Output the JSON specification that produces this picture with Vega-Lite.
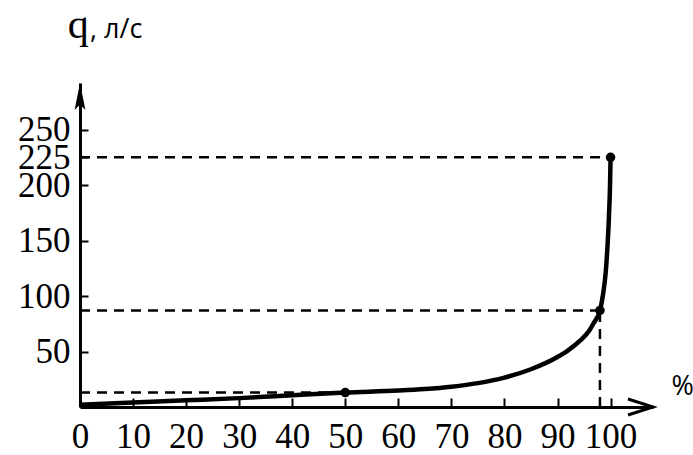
{
  "$schema": "https://vega.github.io/schema/vega-lite/v6.json",
  "width": 573,
  "height": 324,
  "autosize": {"type": "none"},
  "padding": {"left": 80, "top": 83, "right": 40, "bottom": 48},
  "background": "white",
  "config": {"view": {"stroke": null}},
  "datasets": {
    "curve": [
      {"p": 0, "q": 2}, {"p": 10, "q": 4}, {"p": 20, "q": 6}, {"p": 30, "q": 8},
      {"p": 40, "q": 10.5}, {"p": 50, "q": 13}, {"p": 60, "q": 14.8}, {"p": 65, "q": 16.2},
      {"p": 70, "q": 18.3}, {"p": 75, "q": 21.5}, {"p": 80, "q": 26.5}, {"p": 85, "q": 34}, {"p": 90, "q": 45},
      {"p": 92, "q": 51}, {"p": 94.3, "q": 60}, {"p": 96, "q": 69}, {"p": 96.8, "q": 75.5},
      {"p": 98, "q": 87}, {"p": 98.6, "q": 102}, {"p": 99.1, "q": 122}, {"p": 99.4, "q": 143},
      {"p": 99.7, "q": 172}, {"p": 99.9, "q": 200}, {"p": 100, "q": 225}
    ],
    "dashes": [
      {"x1": 0, "x2": 100, "y1": 225, "y2": 225},
      {"x1": 0, "x2": 98, "y1": 87, "y2": 87},
      {"x1": 0, "x2": 50, "y1": 13, "y2": 13},
      {"x1": 98, "x2": 98, "y1": 0, "y2": 87}
    ],
    "dots": [{"p": 50, "q": 13}, {"p": 98, "q": 87}, {"p": 100, "q": 225}],
    "uparrow": [{"p": 0, "q": 292}],
    "rightarrow": [{"p": 108, "q": 0}],
    "serif": [{"p": -2.3, "q": 333, "t": "q"}],
    "sans": [{"p": 1.9, "q": 333, "t": ", л/с"}, {"p": 111.5, "q": 11, "t": "%"}]
  },
  "layer": [
    {
      "data": {"name": "dashes"},
      "mark": {"type": "rule", "strokeDash": [10, 7], "strokeWidth": 2.5, "color": "black", "clip": false},
      "encoding": {
        "x": {"field": "x1", "type": "quantitative", "scale": {"domain": [0, 108], "nice": false, "zero": false},
          "axis": {"values": [0, 10, 20, 30, 40, 50, 60, 70, 80, 90, 100], "title": null, "grid": false,
            "domainColor": "black", "domainWidth": 3, "tickColor": "black", "tickWidth": 2, "tickSize": -9,
            "labelPadding": 21, "labelFont": "Liberation Serif", "labelFontSize": 35, "labelColor": "black", "labelFlush": false}},
        "x2": {"field": "x2"},
        "y": {"field": "y1", "type": "quantitative", "scale": {"domain": [0, 292], "nice": false, "zero": false},
          "axis": {"values": [50, 100, 150, 200, 225, 250], "title": null, "grid": false,
            "domainColor": "black", "domainWidth": 3, "tickColor": "black", "tickWidth": 2, "tickSize": -8,
            "labelPadding": 18, "labelFont": "Liberation Serif", "labelFontSize": 35, "labelColor": "black",
            "labelOverlap": false, "labelFlush": false, "labelBaseline": "middle"}},
        "y2": {"field": "y2"}
      }
    },
    {
      "data": {"name": "curve"},
      "mark": {"type": "line", "interpolate": "monotone", "strokeWidth": 4.5, "color": "black", "clip": false},
      "encoding": {
        "x": {"field": "p", "type": "quantitative"},
        "y": {"field": "q", "type": "quantitative"}
      }
    },
    {
      "data": {"name": "dots"},
      "mark": {"type": "point", "filled": true, "size": 90, "color": "black", "opacity": 1},
      "encoding": {
        "x": {"field": "p", "type": "quantitative"},
        "y": {"field": "q", "type": "quantitative"}
      }
    },
    {
      "data": {"name": "uparrow"},
      "mark": {"type": "point", "filled": true, "size": 729, "color": "black", "opacity": 1,
        "shape": "M0,0L-0.4,2L0,1.6L0.4,2Z", "clip": false},
      "encoding": {
        "x": {"field": "p", "type": "quantitative"},
        "y": {"field": "q", "type": "quantitative"}
      }
    },
    {
      "data": {"name": "rightarrow"},
      "mark": {"type": "point", "filled": false, "size": 625, "color": "black", "opacity": 1, "strokeWidth": 3,
        "shape": "M-2,-0.64L0,0L-2,0.64", "clip": false},
      "encoding": {
        "x": {"field": "p", "type": "quantitative"},
        "y": {"field": "q", "type": "quantitative"}
      }
    },
    {
      "data": {"name": "serif"},
      "mark": {"type": "text", "font": "Liberation Serif", "fontSize": 42, "align": "left", "baseline": "alphabetic", "color": "black", "clip": false},
      "encoding": {
        "x": {"field": "p", "type": "quantitative"},
        "y": {"field": "q", "type": "quantitative"},
        "text": {"field": "t"}
      }
    },
    {
      "data": {"name": "sans"},
      "mark": {"type": "text", "font": "Open Sans", "fontSize": 27, "align": "left", "baseline": "alphabetic", "color": "black", "clip": false},
      "encoding": {
        "x": {"field": "p", "type": "quantitative"},
        "y": {"field": "q", "type": "quantitative"},
        "text": {"field": "t"}
      }
    }
  ]
}
